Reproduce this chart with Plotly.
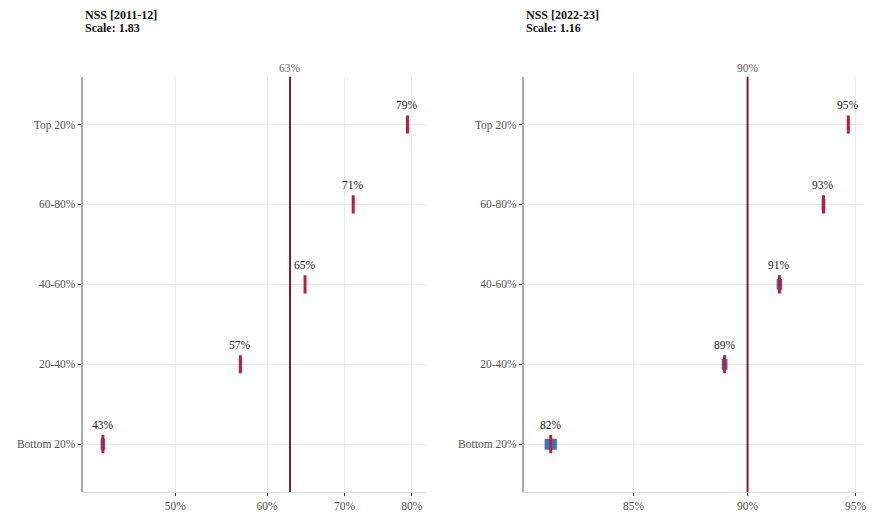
import numpy as np
import plotly.graph_objects as go

groups = ["Bottom 20%", "20-40%", "40-60%", "60-80%", "Top 20%"]

est_2011 = [43.3, 56.9, 64.7, 71.2, 79.3]
lo_2011 = [43.1, 56.75, 64.58, 71.1, 79.22]
hi_2011 = [43.5, 57.05, 64.82, 71.3, 79.38]
mean_2011 = 62.8
title_2011 = "NSS [2011-12]"
scale_2011 = "1.83"
ticks_2011 = [50, 60, 70, 80]

est_2022 = [81.55, 88.97, 91.45, 93.49, 94.66]
lo_2022 = [81.3, 88.84, 91.32, 93.4, 94.61]
hi_2022 = [81.8, 89.1, 91.58, 93.58, 94.71]
mean_2022 = 90.0
title_2022 = "NSS [2022-23]"
scale_2022 = "1.16"
ticks_2022 = [85, 90, 95]

FONT = "Liberation Serif"
BLUE = "#2d7bbf"
RED = "#c8163e"
MEAN = "#7e1a36"
W, H = 873, 512

fig = go.Figure()
ypos = list(range(len(groups)))

panels = [
    dict(est=est_2011, lo=lo_2011, hi=hi_2011, mean=mean_2011, title=title_2011,
         scale=scale_2011, ticks=ticks_2011, xa="x", ya="y", px=(83, 427)),
    dict(est=est_2022, lo=lo_2022, hi=hi_2022, mean=mean_2022, title=title_2022,
         scale=scale_2022, ticks=ticks_2022, xa="x2", ya="y2", px=(525.7, 866)),
]

ranges = [
    [np.log10(41.6), np.log10(82.2)],
    [np.log10(80.46), np.log10(95.36)],
]

annotations = []
for i, p in enumerate(panels):
    # mean line
    fig.add_trace(go.Scatter(x=[p["mean"], p["mean"]], y=[-0.6, 4.6], mode="lines",
                             line=dict(color=MEAN, width=2), xaxis=p["xa"], yaxis=p["ya"],
                             hoverinfo="skip", showlegend=False))
    # CI boxes
    for j in ypos:
        fig.add_trace(go.Scatter(x=[p["lo"][j], p["hi"][j]], y=[j, j], mode="lines",
                                 line=dict(color=BLUE, width=11), xaxis=p["xa"], yaxis=p["ya"],
                                 showlegend=False))
    # point estimates
    fig.add_trace(go.Scatter(x=p["est"], y=ypos, mode="markers",
                             marker=dict(symbol="line-ns", size=13,
                                         line=dict(color=RED, width=3)),
                             xaxis=p["xa"], yaxis=p["ya"], showlegend=False))
    xref = p["xa"]
    yref = p["ya"]
    for j in ypos:
        annotations.append(dict(x=np.log10(p["est"][j]), y=j, xref=xref, yref=yref,
                                text=f"{round(p['est'][j])}%", showarrow=False,
                                yshift=19, font=dict(family=FONT, size=11.5, color="#222")))
    annotations.append(dict(x=np.log10(p["mean"]), y=4.6, xref=xref, yref=yref,
                            text=f"{round(p['mean'])}%", showarrow=False, yanchor="bottom",
                            yshift=1, font=dict(family=FONT, size=11.5, color="#666")))
    annotations.append(dict(x=p["px"][0] / W, y=1 - 15 / H, xref="paper", yref="paper",
                            xanchor="left", yanchor="middle", align="left",
                            text=f"<b>{p['title']}</b>",
                            showarrow=False, font=dict(family=FONT, size=12, color="#111")))
    annotations.append(dict(x=p["px"][0] / W, y=1 - 28 / H, xref="paper", yref="paper",
                            xanchor="left", yanchor="middle", align="left",
                            text=f"<b>Scale: {p['scale']}</b>",
                            showarrow=False, font=dict(family=FONT, size=12, color="#111")))

ydom = [1 - 495 / H, 1 - 77 / H]
common_x = dict(type="log", showgrid=True, gridcolor="#ebebeb", gridwidth=1,
                showline=True, linecolor="#e0e0e0", linewidth=1, ticks="outside",
                ticklen=3, tickcolor="#333", zeroline=False,
                tickfont=dict(family=FONT, size=11.5, color="#555"))
common_y = dict(range=[-0.6, 4.6], tickvals=ypos, ticktext=groups, showgrid=True,
                gridcolor="#ebebeb", gridwidth=1, showline=True, linecolor="#aaaaaa",
                linewidth=2, ticks="outside", ticklen=3, tickcolor="#333", zeroline=False,
                tickfont=dict(family=FONT, size=11.5, color="#555"))

fig.update_layout(
    width=W, height=H, margin=dict(l=0, r=0, t=0, b=0),
    paper_bgcolor="white", plot_bgcolor="white",
    xaxis=dict(domain=[83 / W, 427 / W], range=ranges[0], tickvals=ticks_2011,
               ticktext=[f"{t}%" for t in ticks_2011], anchor="y", **common_x),
    xaxis2=dict(domain=[525.7 / W, 866 / W], range=ranges[1], tickvals=ticks_2022,
                ticktext=[f"{t}%" for t in ticks_2022], anchor="y2", **common_x),
    yaxis=dict(domain=ydom, anchor="x", **common_y),
    yaxis2=dict(domain=ydom, anchor="x2", **common_y),
    annotations=annotations,
    showlegend=False,
)

fig.write_html("out.html")
